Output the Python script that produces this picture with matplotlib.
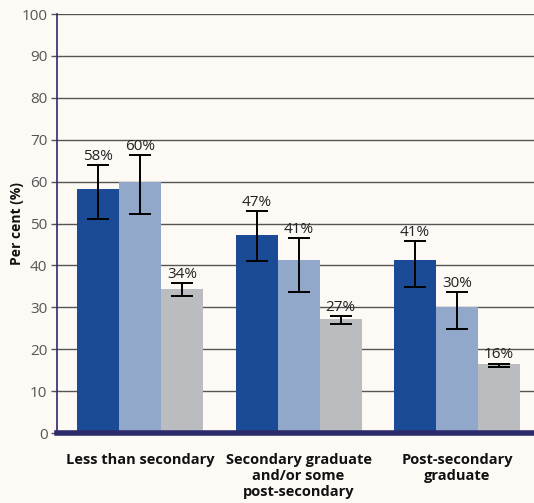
import matplotlib.pyplot as plt
import numpy as np

plt.rcParams["font.family"] = ["Open Sans", "DejaVu Sans"]

categories = ["Less than secondary", "Secondary graduate\nand/or some\npost-secondary",
              "Post-secondary\ngraduate"]
series_a = [58.2, 47.3, 41.3]
series_b = [60.0, 41.3, 30.0]
series_c = [34.4, 27.2, 16.4]
low_a = [51.0, 41.1, 34.9]
high_a = [64.0, 53.0, 45.9]
low_b = [52.4, 33.7, 24.8]
high_b = [66.3, 46.6, 33.7]
low_c = [32.8, 26.0, 15.8]
high_c = [35.8, 27.9, 16.6]
labels_a = ["58%", "47%", "41%"]
labels_b = ["60%", "41%", "30%"]
labels_c = ["34%", "27%", "16%"]

bg = "#fdfaf5"
colors = ["#1b4b96", "#92a8cb", "#bbbcc0"]

fig = plt.figure(figsize=(5.34, 5.03), dpi=100, facecolor=bg)
ax = fig.add_axes([0.107, 0.139, 0.893, 0.833], facecolor=bg)

x = np.arange(len(categories))
w = 0.265
offsets = [-w, 0, w]
vals = [series_a, series_b, series_c]
lows = [low_a, low_b, low_c]
highs = [high_a, high_b, high_c]
labs = [labels_a, labels_b, labels_c]

for i in range(3):
    v = np.array(vals[i])
    lo = v - np.array(lows[i])
    hi = np.array(highs[i]) - v
    ax.bar(x + offsets[i], v, w, color=colors[i], zorder=2)
    ax.errorbar(x + offsets[i], v, yerr=[lo, hi], fmt="none", ecolor="black",
                elinewidth=1.4, capsize=8, capthick=1.4, zorder=3)
    for xi, top, t in zip(x + offsets[i], highs[i], labs[i]):
        ax.text(xi, top + 0.3, t, ha="center", va="bottom", fontsize=11,
                color="#222222", zorder=4)

ax.set_ylim(0, 100)
ax.set_xlim(-0.524, 2.486)
ax.set_yticks(np.arange(0, 101, 10))
ax.yaxis.grid(True, color="#555555", linewidth=1.0, zorder=0)
ax.set_axisbelow(True)
ax.tick_params(axis="y", colors="#555555", labelsize=11, length=4, width=1,
               labelcolor="#555555", pad=3)
ax.tick_params(axis="x", length=0, pad=14, labelsize=10.5)
ax.set_xticks(x)
ax.set_xticklabels(categories, fontweight="bold", color="#111111",
                   linespacing=1.2, va="top")
ax.set_ylabel("Per cent (%)", fontweight="bold", fontsize=10, color="#111111")
ax.yaxis.set_label_coords(-0.07, 0.5)

for s in ["top", "right"]:
    ax.spines[s].set_visible(False)
ax.spines["left"].set_color("#2d2a6b")
ax.spines["left"].set_linewidth(1.2)
ax.spines["bottom"].set_color("#2d2a6b")
ax.spines["bottom"].set_linewidth(4)
ax.spines["bottom"].set_zorder(5)

fig.savefig("out.png", dpi=100, facecolor=bg)
